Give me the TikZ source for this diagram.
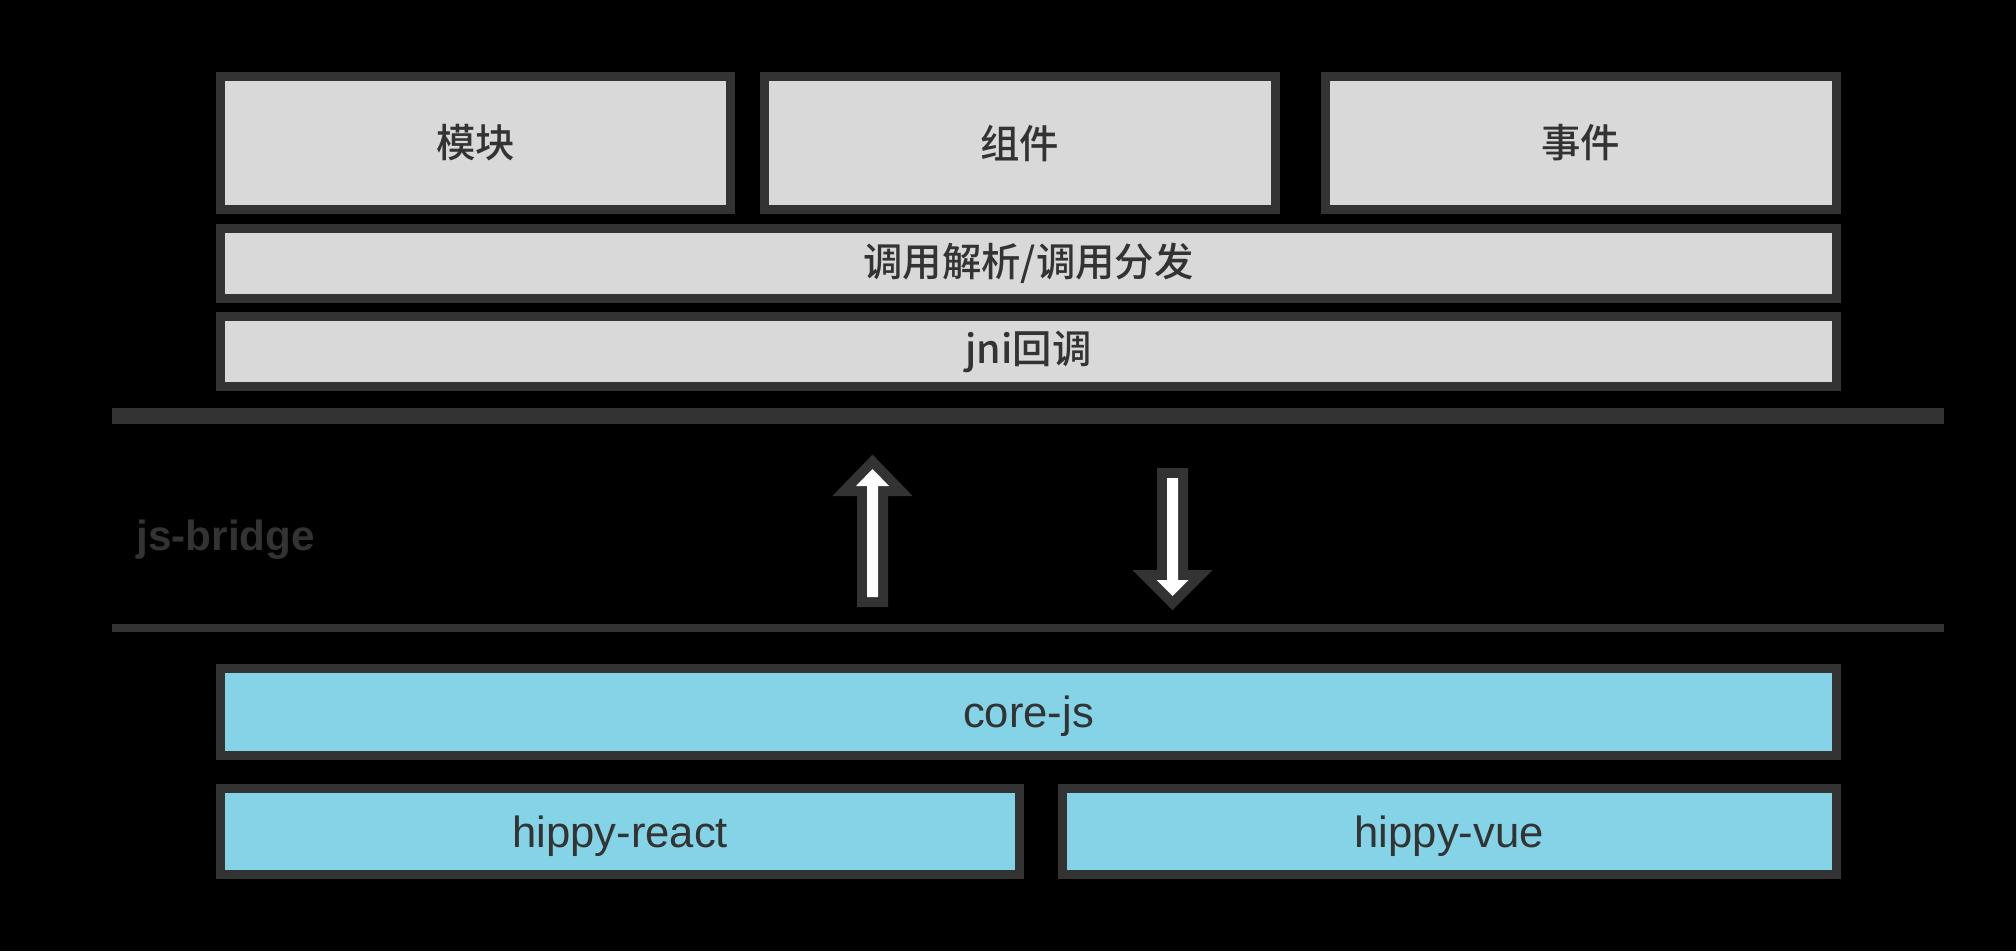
\documentclass[tikz,border=0pt]{standalone}
\usepackage{fontspec}
\setmainfont{Liberation Sans}
\newfontfamily\cjkfont{Noto Sans CJK SC Medium}
\usetikzlibrary{positioning}

\definecolor{edgegray}{RGB}{51,51,51}
\definecolor{panelgray}{RGB}{217,217,217}
\definecolor{jsblue}{RGB}{132,211,231}

\begin{document}
\begin{tikzpicture}[x=0.01cm,y=-0.01cm,
    layer/.style={draw=edgegray,line width=0.09cm,fill=panelgray,inner sep=0pt,
      text=edgegray,font=\cjkfont\fontsize{11.2pt}{13pt}\selectfont},
    jslayer/.style={layer,fill=jsblue,text depth=0pt,font=\fontsize{12.4pt}{14pt}\selectfont},
    divider/.style={edgegray,line width=#1},
    hollowarrow/.style={fill=white,preaction={draw=edgegray,line width=0.2cm,line join=miter}}]
    \fill[black] (0,0) rectangle (2016,951);
    \useasboundingbox (0,0) rectangle (2016,951);

    \node[layer,minimum width=5.10cm,minimum height=1.33cm,anchor=north west] (mod) at (216,72) {模块};
    \node[layer,minimum width=5.10cm,minimum height=1.33cm] (comp) [right=0.25cm of mod] {组件};
    \node[layer,minimum width=5.11cm,minimum height=1.33cm] (evt) [right=0.41cm of comp] {事件};
    \node[layer,minimum width=16.15cm,minimum height=0.70cm] (dispatch) [below=0.10cm of mod.south west,anchor=north west] {调用解析/调用分发};
    \node[layer,minimum width=16.15cm,minimum height=0.70cm] (jni) [below=0.09cm of dispatch] {jni回调};

    \draw[divider=0.16cm] (112,416) -- (1944,416);
    \draw[divider=0.08cm] (112,628) -- (1944,628);

    \node[anchor=west,inner sep=0pt,text=edgegray,font=\bfseries\fontsize{12pt}{14pt}\selectfont] (bridge) at (136,540) {js-bridge};

    \coordinate (upfoot) at (872.5,597);
    \coordinate (downtop) at (1172.5,478);
    \path[hollowarrow] (upfoot) ++(-5.5,0) -- ++(0,-111) -- ++(-11,0) -- ++(16.5,-17) -- ++(16.5,17) -- ++(-11,0) -- ++(0,111) -- cycle;
    \path[hollowarrow] (downtop) ++(-5.5,0) -- ++(0,102) -- ++(-10.5,0) -- ++(16,16) -- ++(16,-16) -- ++(-10.5,0) -- ++(0,-102) -- cycle;

    \node[jslayer,minimum width=16.15cm,minimum height=0.87cm,anchor=north west] (core) at (216,664) {core-js};
    \node[jslayer,minimum width=7.99cm,minimum height=0.86cm] (react) [below=0.24cm of core.south west,anchor=north west] {hippy-react};
    \node[jslayer,minimum width=7.74cm,minimum height=0.86cm] (vue) [right=0.33cm of react] {hippy-vue};
\end{tikzpicture}
\end{document}
